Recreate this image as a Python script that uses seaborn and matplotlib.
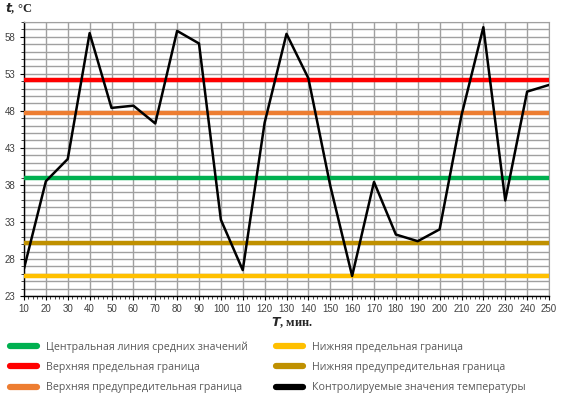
import matplotlib
matplotlib.use("Agg")
import matplotlib.pyplot as plt
from matplotlib.lines import Line2D
from matplotlib.ticker import MultipleLocator
import pandas as pd
import seaborn as sns

# data
minutes = [10, 20, 30, 40, 50, 60, 70, 80, 90, 100, 110, 120, 130,
           140, 150, 160, 170, 180, 190, 200, 210, 220, 230, 240, 250]
temps = [26.7, 38.5, 41.5, 58.5, 48.4, 48.7, 46.3, 58.8, 57.1, 33.3, 26.5, 46.4, 58.4,
         52.4, 37.9, 25.7, 38.4, 31.3, 30.4, 32.0, 47.4, 59.3, 35.9, 50.6, 51.5]

limit_names = ["Центральная линия средних значений",
               "Верхняя предельная граница",
               "Верхняя предупредительная граница",
               "Нижняя предельная граница",
               "Нижняя предупредительная граница"]
limit_values = [38.9, 52.2, 47.7, 25.7, 30.1]
limit_colors = ["#00B050", "#FF0000", "#ED7D31", "#FFC000", "#BF9000"]
temp_name = "Контролируемые значения температуры"

df = pd.DataFrame({"T": minutes, "t": temps})

sns.set_style("white")
fig = plt.figure(figsize=(5.67, 3.98), dpi=100)
ax = fig.add_axes([24 / 567, 1 - 296 / 398, 525 / 567, 274 / 398])

for v, c in zip(limit_values, limit_colors):
    ax.axhline(v, color=c, lw=3.2, zorder=3)
sns.lineplot(data=df, x="T", y="t", ax=ax, color="black", lw=1.8, zorder=4)

ax.set_xlim(10, 250)
ax.set_ylim(23, 60)
ax.xaxis.set_major_locator(MultipleLocator(10))
ax.xaxis.set_minor_locator(MultipleLocator(2))
ax.set_yticks(range(23, 60, 5))
ax.yaxis.set_minor_locator(MultipleLocator(1))
grid_color = "#a0a0a0"
ax.grid(True, which="major", axis="x", color=grid_color, lw=1)
ax.grid(True, which="minor", axis="y", color=grid_color, lw=1)
ax.grid(True, which="major", axis="y", color=grid_color, lw=1)
ax.set_axisbelow(True)

for s in ["top", "right"]:
    ax.spines[s].set_color(grid_color)
for s in ["left", "bottom"]:
    ax.spines[s].set_color("black")
    ax.spines[s].set_linewidth(1)

ax.tick_params(axis="both", which="major", direction="out", length=3, width=0.8,
               labelsize=7, colors="black", pad=3)
ax.tick_params(axis="both", which="minor", direction="out", length=2, width=0.6)
ax.tick_params(axis="x", which="both", bottom=True)
ax.tick_params(axis="y", which="both", left=True)
for lab in ax.get_xticklabels() + ax.get_yticklabels():
    lab.set_family("Liberation Sans")
    lab.set_color("#404040")

ax.set_xlabel("")
ax.set_ylabel("")
fig.text(5 / 567, 1 - 9 / 398, r"$\bfit{t}$, °C", family="Liberation Serif",
         fontsize=9, fontweight="bold", va="center", ha="left")
fig.text(292 / 567, 1 - 323 / 398, r"$\bfit{T}$, мин.", family="Liberation Serif",
         fontsize=9, fontweight="bold", va="center", ha="center")

handles = [Line2D([0], [0], color=c, lw=4.5, solid_capstyle="round")
           for c in limit_colors]
handles.append(Line2D([0], [0], color="black", lw=4.5, solid_capstyle="round"))
labels = limit_names + [temp_name]
leg = fig.legend(handles, labels, ncol=2, loc="upper left",
                 bbox_to_anchor=(0.0, 1 - 332 / 398), frameon=False,
                 prop={"family": "Open Sans", "size": 7.7},
                 handlelength=2.6, handletextpad=0.8, columnspacing=2.6,
                 labelspacing=0.85, labelcolor="#595959")

fig.savefig("out.png", dpi=100)
